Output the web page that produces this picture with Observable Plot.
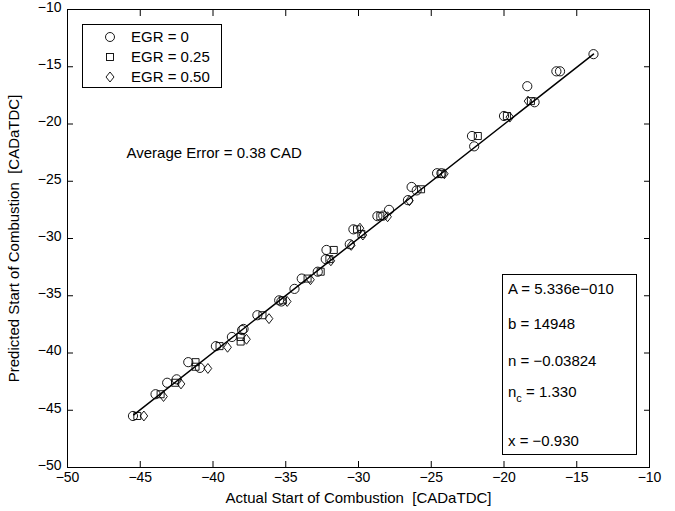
<!DOCTYPE html>
<html>
<head>
<meta charset="utf-8">
<script src="https://cdn.jsdelivr.net/npm/d3@7"></script>
<script src="https://cdn.jsdelivr.net/npm/@observablehq/plot@0.6"></script>
<style>
  body { margin: 0; background: #fff; }
  #wrap { position: relative; width: 675px; height: 511px; font-family: "Liberation Sans", Arial, sans-serif; color: #000; }
  .box { position: absolute; border: 1px solid #000; background: #fff; box-sizing: border-box; }
  .lg-row { position: absolute; left: 0; height: 20px; font-size: 15px; line-height: 20px; white-space: nowrap; }
  .lg-row svg { position: absolute; left: 21px; top: 4px; }
  .lg-row span { position: absolute; left: 48px; }
  .pr { position: absolute; left: 5px; font-size: 15px; line-height: 18px; white-space: nowrap; }
  sub { font-size: 11px; vertical-align: -5px; line-height: 0; }
</style>
</head>
<body>
<div id="wrap"></div>
<script>
// ---- data ----
const xTicks = [-50, -45, -40, -35, -30, -25, -20, -15, -10];
const yTicks = [-50, -45, -40, -35, -30, -25, -20, -15, -10];

// EGR = 0 (circles): actual, predicted
const egr0Actual    = [-45.5, -43.95, -43.15, -42.5, -41.7, -40.9, -39.8, -38.7, -38.0, -37.9, -36.95, -35.45, -35.3, -34.4, -33.9, -32.8, -32.2, -32.25, -30.6, -30.35, -28.7, -28.3, -27.9, -26.6, -26.35, -26.0, -24.6, -24.3, -22.05, -22.2, -20.0, -17.9, -18.4, -16.4, -16.15, -13.85];
const egr0Predicted = [-45.5, -43.6, -42.6, -42.3, -40.8, -41.3, -39.4, -38.6, -38.0, -37.9, -36.7, -35.4, -35.5, -34.4, -33.5, -32.9, -31.0, -31.8, -30.5, -29.2, -28.05, -28.0, -27.5, -26.65, -25.5, -25.8, -24.3, -24.3, -21.95, -21.05, -19.3, -18.1, -16.7, -15.4, -15.4, -13.9];

// EGR = 0.25 (squares)
const egr25Actual    = [-45.2, -43.6, -42.6, -41.2, -41.2, -39.55, -38.1, -38.1, -36.6, -35.2, -33.5, -32.6, -31.7, -32.0, -30.1, -29.8, -28.5, -25.7, -24.3, -21.8, -19.8, -18.15];
const egr25Predicted = [-45.5, -43.6, -42.6, -40.8, -41.2, -39.4, -38.6, -39.0, -36.7, -35.4, -33.5, -32.9, -31.0, -31.8, -29.2, -29.6, -28.05, -25.7, -24.35, -21.05, -19.3, -18.0];

// EGR = 0.50 (diamonds)
const egr50Actual    = [-44.75, -43.4, -42.2, -40.35, -39.0, -37.7, -36.15, -34.9, -33.3, -31.9, -30.5, -29.9, -29.7, -28.0, -26.5, -24.1, -19.6, -18.35];
const egr50Predicted = [-45.5, -43.8, -42.7, -41.35, -39.5, -38.8, -37.0, -35.5, -33.6, -31.95, -30.6, -29.1, -29.7, -28.1, -26.7, -24.35, -19.4, -18.0];

// fit line
const fitActual    = [-45.45, -13.85];
const fitPredicted = [-45.4, -13.9];

const legendLabels = ["EGR = 0", "EGR = 0.25", "EGR = 0.50"];
const paramLabels = ["A = 5.336e\u2212010", "b = 14948", "n = \u22120.03824", "n<sub>c</sub> = 1.330", "x = \u22120.930"];
const noteText = "Average Error = 0.38 CAD";
const xLabel = "Actual Start of Combustion  [CADaTDC]";
const yLabel = "Predicted Start of Combustion  [CADaTDC]";

// ---- symbols ----
const squareSym = { draw(ctx, size) { const r = Math.sqrt(size / Math.PI); const h = r * 0.78; ctx.moveTo(-h, -h); ctx.lineTo(h, -h); ctx.lineTo(h, h); ctx.lineTo(-h, h); ctx.closePath(); } };
const diamondSym = { draw(ctx, size) { const r = Math.sqrt(size / Math.PI); ctx.moveTo(0, -1.1 * r); ctx.lineTo(0.85 * r, 0); ctx.lineTo(0, 1.1 * r); ctx.lineTo(-0.85 * r, 0); ctx.closePath(); } };

const toRows = (xs, ys) => xs.map((x, i) => ({x, y: ys[i]}));
const d0 = toRows(egr0Actual, egr0Predicted);
const d25 = toRows(egr25Actual, egr25Predicted);
const d50 = toRows(egr50Actual, egr50Predicted);
const fit = toRows(fitActual, fitPredicted);
const fmt = d => String(d).replace("-", "\u2212");

const chart = Plot.plot({
  width: 675,
  height: 511,
  marginLeft: 67,
  marginRight: 26,
  marginTop: 9,
  marginBottom: 44,
  style: { fontFamily: "'Liberation Sans', Arial, sans-serif", fontSize: "15px", color: "#000", background: "#fff", overflow: "visible" },
  x: { domain: [-50, -10] },
  y: { domain: [-50, -10] },
  marks: [
    Plot.frame({ stroke: "#000", strokeWidth: 1 }),
    Plot.axisX(xTicks, { anchor: "bottom", tickSize: -6, tickPadding: 11, label: null, fontSize: 14, tickFormat: fmt }),
    Plot.axisX(xTicks, { anchor: "top", tickSize: -6, tickPadding: 0, label: null, tickFormat: () => "" }),
    Plot.axisY(yTicks, { anchor: "left", tickSize: -6, tickPadding: 0, label: null, tickFormat: () => "" }),
    Plot.axisY(yTicks, { anchor: "left", tickSize: 0, tickPadding: 6, dy: -2, label: null, fontSize: 14, tickFormat: fmt }),
    Plot.axisY(yTicks, { anchor: "right", tickSize: -6, tickPadding: 0, label: null, tickFormat: () => "" }),
    Plot.text([xLabel], { frameAnchor: "bottom", dy: 35, textAnchor: "middle", fontSize: 15 }),
    Plot.text([yLabel], { frameAnchor: "left", dx: -53, rotate: -90, textAnchor: "middle", fontSize: 15 }),
    Plot.text([noteText], { frameAnchor: "top-left", dx: 59, dy: 138, textAnchor: "start", fontSize: 15 }),
    Plot.line(fit, { x: "x", y: "y", stroke: "#000", strokeWidth: 1.5 }),
    Plot.dot(d0, { x: "x", y: "y", r: 4.6, symbol: "circle", stroke: "#000", strokeWidth: 0.9, fill: "none" }),
    Plot.dot(d25, { x: "x", y: "y", r: 4.5, symbol: squareSym, stroke: "#000", strokeWidth: 0.9, fill: "none" }),
    Plot.dot(d50, { x: "x", y: "y", r: 4.5, symbol: diamondSym, stroke: "#000", strokeWidth: 0.9, fill: "none" })
  ]
});

const wrap = document.getElementById("wrap");
wrap.appendChild(chart);

// legend box
const legend = document.createElement("div");
legend.className = "box";
Object.assign(legend.style, { left: "82px", top: "24px", width: "140px", height: "64px" });
const legendSvgs = [
  '<svg width="12" height="12"><circle cx="6" cy="6" r="4.5" fill="none" stroke="#000" stroke-width="0.9"/></svg>',
  '<svg width="12" height="12"><rect x="2.5" y="2.5" width="7" height="7" fill="none" stroke="#000" stroke-width="0.9"/></svg>',
  '<svg width="12" height="12"><path d="M6,1 L10,6 L6,11 L2,6 Z" fill="none" stroke="#000" stroke-width="0.9"/></svg>'
];
legendLabels.forEach((lab, i) => {
  const row = document.createElement("div");
  row.className = "lg-row";
  row.style.top = (2 + i * 20) + "px";
  row.innerHTML = legendSvgs[i] + "<span>" + lab + "</span>";
  legend.appendChild(row);
});
wrap.appendChild(legend);

// parameter box
const pbox = document.createElement("div");
pbox.className = "box";
Object.assign(pbox.style, { left: "502px", top: "274px", width: "135px", height: "181px" });
const pTops = [5, 40, 77, 108, 157];
paramLabels.forEach((lab, i) => {
  const t = document.createElement("div");
  t.className = "pr";
  t.style.top = pTops[i] + "px";
  t.innerHTML = lab;
  pbox.appendChild(t);
});
wrap.appendChild(pbox);
</script>
</body>
</html>
